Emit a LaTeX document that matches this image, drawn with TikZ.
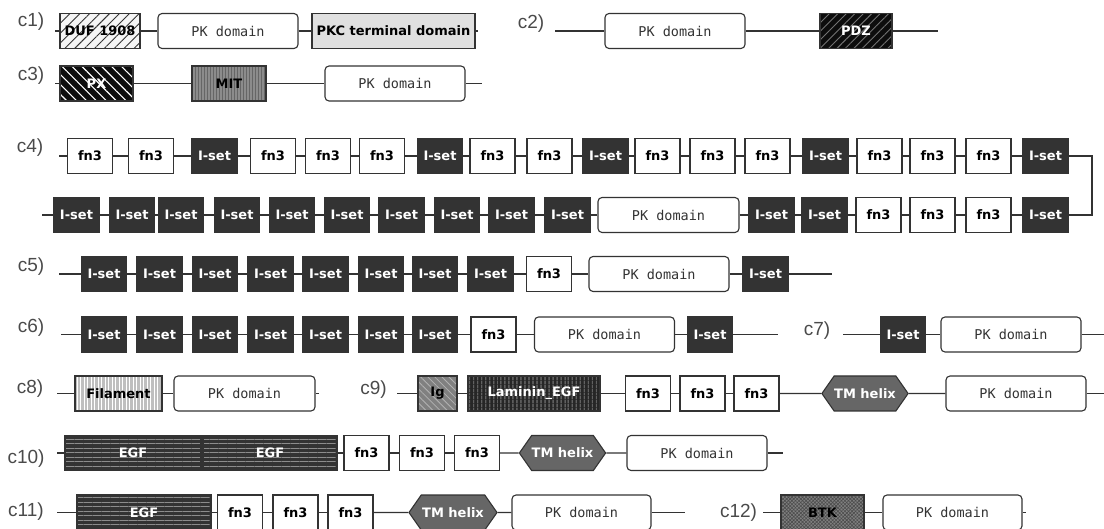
\documentclass[tikz,border=0pt]{standalone}
\usepackage{fontspec}
\setmainfont{DejaVu Sans}
\newfontfamily\bfnt{DejaVu Sans}
\newfontfamily\monofnt{DejaVu Sans Mono}
\newfontfamily\labfnt{Liberation Sans}
\usetikzlibrary{patterns.meta,shapes.symbols}
\definecolor{dk}{HTML}{333333}
\definecolor{isetc}{HTML}{333333}
\definecolor{labc}{HTML}{4A4A4A}
\tikzset{
  base/.style={draw=dk, line width=1.1pt, minimum height=35pt, inner sep=0pt, font=\bfnt\bfseries\fontsize{13}{15}\selectfont},
  fnbox/.style={base, fill=white, minimum width=45pt},
  iset/.style={base, fill=isetc, text=white, minimum width=45pt},
  pk/.style={draw=dk, line width=1.1pt, rounded corners=4pt, fill=white, minimum height=35pt, minimum width=140pt, inner sep=0pt, font=\monofnt\fontsize{13.5}{15}\selectfont, text=black!80},
  tm/.style={base, shape=signal, signal to=west and east, signal pointer angle=110, fill=black!60, text=white},
  ln/.style={draw=dk, line width=1.1pt},
  lab/.style={font=\labfnt\fontsize{19}{21}\selectfont, text=labc, inner sep=0pt},
  duf/.style={base, preaction={fill=black!4}, pattern={Lines[angle=45,distance=7pt,line width=0.9pt]}, pattern color=dk},
  pkc/.style={base, fill=black!12},
  pdz/.style={base, preaction={fill=black!95}, pattern={Lines[angle=45,distance=6pt,line width=0.9pt]}, pattern color=black!55, text=white},
  px/.style={base, preaction={fill=black!95}, pattern={Lines[angle=-45,distance=7pt,line width=1.1pt]}, pattern color=white, text=white},
  mit/.style={base, preaction={fill=black!45}, pattern={Lines[angle=90,distance=3pt,line width=0.8pt]}, pattern color=black!60},
  fil/.style={base, preaction={fill=black!25}, pattern={Lines[angle=90,distance=3.5pt,line width=1pt]}, pattern color=white},
  igd/.style={base, preaction={fill=black!50}, pattern={Lines[angle=-45,distance=5pt,line width=0.8pt]}, pattern color=black!30},
  lam/.style={base, preaction={fill=black!85}, pattern={Lines[angle=90,distance=4pt,line width=0.8pt]}, pattern color=black!50, text=white},
  egf/.style={base, preaction={fill=black!80}, pattern={Lines[angle=0,distance=4.5pt,line width=0.9pt]}, pattern color=black!45, text=white},
  btk/.style={base, preaction={fill=black!50}, pattern={Hatch[angle=45,distance=2.5pt,line width=0.6pt]}, pattern color=black!70},
}
\newcommand\FN[3]{\node[fnbox] (#1) at (#2,#3) {fn3};}
\newcommand\IS[3]{\node[iset] (#1) at (#2,#3) {I-set};}
\newcommand\PK[3]{\node[pk] (#1) at (#2,#3) {PK domain};}
\begin{document}
\begin{tikzpicture}[x=1pt,y=-1pt]
\useasboundingbox (0,0) rectangle (1104,529);
% c1
\node[lab] (L1) at (31,22) {c1)};
\coordinate (c1s) at (55,31);
\node[duf, minimum width=80pt] (c1a) at (100,31) {DUF 1908};
\PK{c1b}{228}{31}
\node[pkc, minimum width=163pt] (c1c) at (393.5,31) {PKC terminal domain};
\coordinate (c1e) at (478,31);
\draw[ln] (c1s) -- (c1a) (c1a) -- (c1b) (c1b) -- (c1c) (c1c) -- (c1e);
% c2
\node[lab] (L2) at (531,24) {c2)};
\coordinate (c2s) at (555,31);
\PK{c2a}{675}{31}
\node[pdz, minimum width=72pt] (c2b) at (856,31) {PDZ};
\coordinate (c2e) at (938,31);
\draw[ln] (c2s) -- (c2a) (c2a) -- (c2b) (c2b) -- (c2e);
% c3
\node[lab] (L3) at (31,76) {c3)};
\coordinate (c3s) at (55,83.5);
\node[px, minimum width=73pt] (c3a) at (96.5,83.5) {PX};
\node[mit, minimum width=74pt] (c3b) at (229,83.5) {MIT};
\PK{c3c}{395}{83.5}
\coordinate (c3e) at (482,83.5);
\draw[ln] (c3s) -- (c3a) (c3a) -- (c3b) (c3b) -- (c3c) (c3c) -- (c3e);
% c4 row 1
\node[lab] (L4) at (30,148) {c4)};
\coordinate (c4s) at (59,156);
\FN{a1}{90}{156}
\FN{a2}{151}{156}
\IS{a3}{214.5}{156}
\FN{a4}{273}{156}
\FN{a5}{328}{156}
\FN{a6}{382}{156}
\IS{a7}{440}{156}
\FN{a8}{492.5}{156}
\FN{a9}{549.5}{156}
\IS{a10}{605.5}{156}
\FN{a11}{657.5}{156}
\FN{a12}{712.5}{156}
\FN{a13}{767.5}{156}
\IS{a14}{825.5}{156}
\FN{a15}{879.5}{156}
\FN{a16}{932.5}{156}
\FN{a17}{988.5}{156}
\IS{a18}{1045.5}{156}
\draw[ln] (c4s) -- (a1);
\foreach \i [count=\j from 2] in {1,...,17} \draw[ln] (a\i) -- (a\j);
% c4 row 2
\coordinate (c4t) at (42,215);
\IS{b1}{76.5}{215}
\IS{b2}{132}{215}
\IS{b3}{181}{215}
\IS{b4}{237}{215}
\IS{b5}{292}{215}
\IS{b6}{347}{215}
\IS{b7}{401.5}{215}
\IS{b8}{457}{215}
\IS{b9}{511.5}{215}
\IS{b10}{567.5}{215}
\node[pk, minimum width=141pt] (b11) at (668.5,215) {PK domain};
\IS{b12}{771.5}{215}
\IS{b13}{824.5}{215}
\FN{b14}{878.5}{215}
\FN{b15}{932.5}{215}
\FN{b16}{988.5}{215}
\IS{b17}{1045.5}{215}
\draw[ln] (c4t) -- (b1);
\foreach \i [count=\j from 2] in {1,...,16} \draw[ln] (b\i) -- (b\j);
\coordinate (c4w1) at (1092,156);
\coordinate (c4w2) at (1092,215);
\draw[ln] (a18.east) -- (c4w1) -- (c4w2) -- (b17.east);
% c5
\node[lab] (L5) at (31,267) {c5)};
\coordinate (c5s) at (59,274);
\IS{d1}{104}{274}
\IS{d2}{159.5}{274}
\IS{d3}{215}{274}
\IS{d4}{270.5}{274}
\IS{d5}{325.5}{274}
\IS{d6}{381}{274}
\IS{d7}{435}{274}
\IS{d8}{490.5}{274}
\FN{d9}{549}{274}
\PK{d10}{659}{274}
\IS{d11}{765.5}{274}
\coordinate (c5e) at (832,274);
\draw[ln] (c5s) -- (d1) (d11) -- (c5e);
\foreach \i [count=\j from 2] in {1,...,10} \draw[ln] (d\i) -- (d\j);
% c6
\node[lab] (L6) at (31,328) {c6)};
\coordinate (c6s) at (61,334.5);
\IS{e1}{104}{334.5}
\IS{e2}{159.5}{334.5}
\IS{e3}{215}{334.5}
\IS{e4}{270.5}{334.5}
\IS{e5}{325.5}{334.5}
\IS{e6}{381}{334.5}
\IS{e7}{435}{334.5}
\FN{e8}{493.5}{334.5}
\PK{e9}{604.5}{334.5}
\IS{e10}{710}{334.5}
\coordinate (c6e) at (778,334.5);
\draw[ln] (c6s) -- (e1) (e10) -- (c6e);
\foreach \i [count=\j from 2] in {1,...,9} \draw[ln] (e\i) -- (e\j);
% c7
\node[lab] (L7) at (817,331) {c7)};
\coordinate (c7s) at (843,334.5);
\IS{f1}{903}{334.5}
\PK{f2}{1011}{334.5}
\coordinate (c7e) at (1104,334.5);
\draw[ln] (c7s) -- (f1) (f1) -- (f2) (f2) -- (c7e);
% c8
\node[lab] (L8) at (30,389) {c8)};
\coordinate (c8s) at (57,393.5);
\node[fil, minimum width=87pt] (g1) at (118.5,393.5) {Filament};
\node[pk, minimum width=141pt] (g2) at (244.5,393.5) {PK domain};
\coordinate (c8e) at (319,393.5);
\draw[ln] (c8s) -- (g1) (g1) -- (g2) (g2) -- (c8e);
% c9
\node[lab] (L9) at (373.5,390) {c9)};
\coordinate (c9s) at (397,393.5);
\node[igd, minimum width=39pt] (h1) at (437.5,393.5) {Ig};
\node[lam, minimum width=132pt] (h2) at (534,393.5) {Laminin\_EGF};
\FN{h3}{648}{393.5}
\FN{h4}{702.5}{393.5}
\FN{h5}{756.5}{393.5}
\node[tm, minimum width=86pt] (h6) at (865,393.5) {TM helix};
\PK{h7}{1016}{393.5}
\coordinate (c9e) at (1104,393.5);
\draw[ln] (c9s) -- (h1) (h7) -- (c9e);
\foreach \i [count=\j from 2] in {1,...,6} \draw[ln] (h\i) -- (h\j);
% c10
\node[lab] (L10) at (26,459) {c10)};
\coordinate (c10s) at (57,453);
\node[egf, minimum width=136pt] (k1) at (133,453) {EGF};
\node[egf, minimum width=134pt] (k2) at (270,453) {EGF};
\FN{k3}{366.5}{453}
\FN{k4}{422}{453}
\FN{k5}{477}{453}
\node[tm, minimum width=85pt] (k6) at (562.5,453) {TM helix};
\PK{k7}{697}{453}
\coordinate (c10e) at (783,453);
\draw[ln] (c10s) -- (k1) (k7) -- (c10e);
\foreach \i [count=\j from 2] in {1,...,6} \draw[ln] (k\i) -- (k\j);
% c11
\node[lab] (L11) at (26,512) {c11)};
\coordinate (c11s) at (57,512.5);
\node[egf, minimum width=134pt] (m1) at (144,512.5) {EGF};
\FN{m2}{240}{512.5}
\FN{m3}{295.5}{512.5}
\FN{m4}{350.5}{512.5}
\node[tm, minimum width=88pt] (m5) at (453,512.5) {TM helix};
\node[pk, minimum width=139pt] (m6) at (581.5,512.5) {PK domain};
\coordinate (c11e) at (685,512.5);
\draw[ln] (c11s) -- (m1) (m6) -- (c11e);
\foreach \i [count=\j from 2] in {1,...,5} \draw[ln] (m\i) -- (m\j);
% c12
\node[lab] (L12) at (738.5,513) {c12)};
\coordinate (c12s) at (763,512.5);
\node[btk, minimum width=83pt] (n1) at (822.5,512.5) {BTK};
\node[pk, minimum width=139pt] (n2) at (952.5,512.5) {PK domain};
\coordinate (c12e) at (1026,512.5);
\draw[ln] (c12s) -- (n1) (n1) -- (n2) (n2) -- (c12e);
\end{tikzpicture}
\end{document}
